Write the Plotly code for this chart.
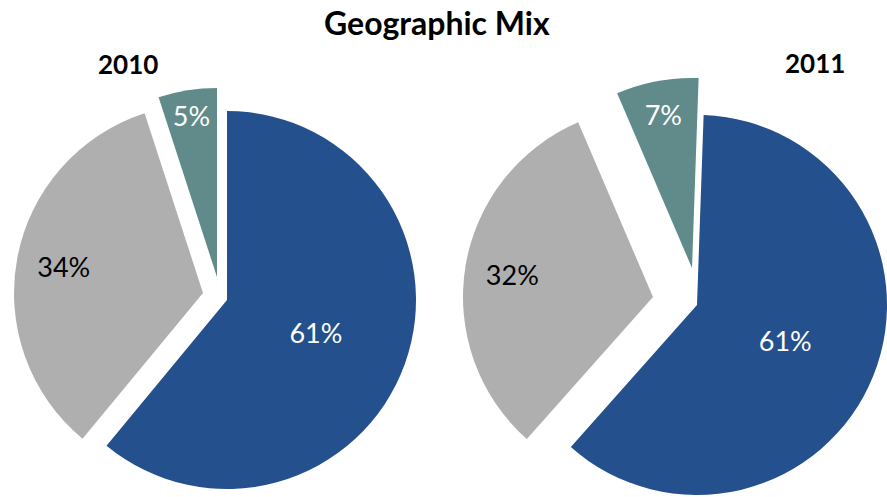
import plotly.graph_objects as go

# ---------------- data ----------------
categories = ["Region A", "Region B", "Region C"]
years = ["2010", "2011"]
share_2010 = [61, 34, 5]
share_2011 = [61, 32, 7]
chart_title = "Geographic Mix"

# ---------------- style / layout ----------------
W, H = 887, 497
slice_colors = ["#24508d", "#afafaf", "#618b8a"]
text_colors = ["white", "black", "white"]
FONT = "Lato"

# per-year pie geometry in pixels: radius, rotation, centre of each exploded slice
geometry = {
    "2010": dict(radius=189, rotation=0,
                 centers=[(227, 300), (203, 293), (217, 277)],
                 label_pos=(127.5, 64)),
    "2011": dict(radius=190, rotation=2,
                 centers=[(697, 305), (653, 297), (692, 268)],
                 label_pos=(815, 63)),
}
# slices whose label sits further out (drawn with a ring-shaped, invisible label trace)
outer_label_hole = {1: 0.5}

TRANSPARENT = "rgba(0,0,0,0)"


def clamp(v):
    return min(1.0, max(0.0, v))


def domain_for(cx, cy, r):
    return dict(x=[clamp((cx - r) / W), clamp((cx + r) / W)],
                y=[clamp(1 - (cy + r) / H), clamp(1 - (cy - r) / H)])


fig = go.Figure()
label_traces = []

for year, values in zip(years, [share_2010, share_2011]):
    g = geometry[year]
    for i, (cx, cy) in enumerate(g["centers"]):
        colors = [slice_colors[j] if j == i else TRANSPARENT for j in range(len(values))]
        show_text_here = i not in outer_label_hole
        texts = [f"{values[j]}%" if (j == i and show_text_here) else "" for j in range(len(values))]
        fig.add_trace(go.Pie(
            labels=categories, values=values, sort=False, direction="clockwise",
            rotation=g["rotation"], domain=domain_for(cx, cy, g["radius"]),
            marker=dict(colors=colors, line=dict(width=0)),
            text=texts, textinfo="text", textposition="inside",
            insidetextorientation="horizontal",
            insidetextfont=dict(family=FONT, size=27, color=text_colors),
            hoverinfo="skip", showlegend=False, name=year,
        ))
        if not show_text_here:
            texts2 = [f"{values[j]}%" if j == i else "" for j in range(len(values))]
            label_traces.append(go.Pie(
                labels=categories, values=values, sort=False, direction="clockwise",
                rotation=g["rotation"], domain=domain_for(cx, cy, g["radius"]),
                hole=outer_label_hole[i],
                marker=dict(colors=[TRANSPARENT] * len(values), line=dict(width=0)),
                text=texts2, textinfo="text", textposition="inside",
                insidetextorientation="horizontal",
                insidetextfont=dict(family=FONT, size=27, color=text_colors),
                hoverinfo="skip", showlegend=False, name=year,
            ))

for t in label_traces:
    fig.add_trace(t)

annotations = [
    dict(text=f"<b>{chart_title}</b>", x=436.5 / W, y=1 - 23 / H, xref="paper", yref="paper",
         xanchor="center", yanchor="middle", showarrow=False,
         font=dict(family=FONT, size=32, color="black")),
]
for year in years:
    lx, ly = geometry[year]["label_pos"]
    annotations.append(dict(text=f"<b>{year}</b>", x=lx / W, y=1 - ly / H,
                            xref="paper", yref="paper", xanchor="center", yanchor="middle",
                            showarrow=False, font=dict(family=FONT, size=26, color="black")))

fig.update_layout(
    width=W, height=H, margin=dict(l=0, r=0, t=0, b=0),
    paper_bgcolor="white", plot_bgcolor="white",
    annotations=annotations, showlegend=False,
)

fig.write_html("out.html")
